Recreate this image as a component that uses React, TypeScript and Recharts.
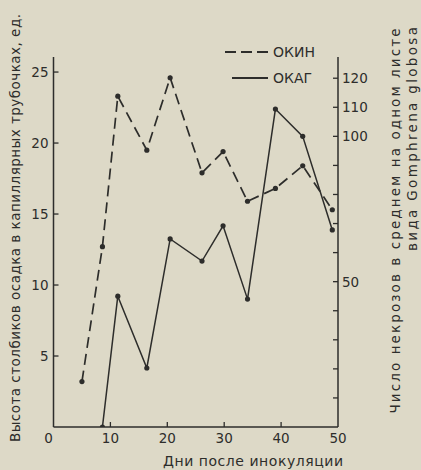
import { LineChart, Line, XAxis, YAxis, Legend, Label } from 'recharts'

// дни после инокуляции
const days = [5.0, 8.6, 11.3, 16.4, 20.5, 26.1, 29.8, 34.1, 39.0, 43.8, 49.0]
// высота столбиков осадка, ед. (левая ось)
const okin = [3.2, 12.7, 23.3, 19.5, 24.6, 17.9, 19.4, 15.9, 16.8, 18.4, 15.3]
// число некрозов на листе (правая ось)
const okag = [null, 0, 45.0, 20.3, 64.7, 57.1, 69.2, 44.0, 109.4, 100.0, 67.8]

const xTicks = [0, 10, 20, 30, 40, 50]
const leftTicks = [5, 10, 15, 20, 25]
const rightTicks = [10, 20, 30, 40, 50, 60, 70, 80, 90, 100, 110, 120]
const rightLabelled = [50, 100, 110, 120]

const data = days.map((d, i) => ({ day: d, okin: okin[i], okag: okag[i] }))

const INK = '#2d2d2b'
const BG = '#ddd9c7'
const FONT = '"DejaVu Sans", Verdana, sans-serif'

const legendOrder = ['okin', 'okag']
const legendStyle: Record<string, { dash?: string; len: number }> = {
  okin: { dash: '11 5', len: 43 },
  okag: { dash: undefined, len: 36 },
}

function XTick({ x, y, payload }: any) {
  const v = payload.value
  return (
    <g>
      {v > 0 && v < 50 && <line x1={x} x2={x} y1={y} y2={y - 5} stroke={INK} strokeWidth={1.3} />}
      <text x={v === 0 ? x - 5 : x} y={y + 11} textAnchor="middle" dominantBaseline="central"
        fontFamily={FONT} fontSize={13.5} fill={INK}>{v}</text>
    </g>
  )
}

function LeftTick({ x, y, payload }: any) {
  return (
    <g>
      <line x1={x} x2={x + 5} y1={y} y2={y} stroke={INK} strokeWidth={1.3} />
      <text x={x - 5} y={y} textAnchor="end" dominantBaseline="central"
        fontFamily={FONT} fontSize={13.5} fill={INK}>{payload.value}</text>
    </g>
  )
}

function RightTick({ x, y, payload }: any) {
  const v = payload.value
  return (
    <g>
      <line x1={x} x2={x - 5} y1={y} y2={y} stroke={INK} strokeWidth={1.3} />
      {rightLabelled.includes(v) && (
        <text x={x + 4} y={y} textAnchor="start" dominantBaseline="central"
          fontFamily={FONT} fontSize={13.5} fill={INK}>{v}</text>
      )}
    </g>
  )
}

function LegendBox({ payload }: any) {
  const items = [...(payload || [])].sort(
    (a: any, b: any) => legendOrder.indexOf(a.dataKey) - legendOrder.indexOf(b.dataKey))
  return (
    <div style={{ fontFamily: FONT, fontSize: 14, color: INK }}>
      {items.map((entry: any) => {
        const s = legendStyle[entry.dataKey]
        return (
          <div key={entry.dataKey} style={{ display: 'flex', alignItems: 'center', height: 26 }}>
            <svg width={46} height={10}>
              <line x1={46 - s.len} x2={46} y1={5} y2={5} stroke={INK} strokeWidth={1.8} strokeDasharray={s.dash} />
            </svg>
            <span style={{ marginLeft: 5 }}>{entry.value}</span>
          </div>
        )
      })}
    </div>
  )
}

function rotated(x: number, y: number, len: number, text: string) {
  return (
    <text x={x} y={y} transform={`rotate(-90 ${x} ${y})`} textAnchor="middle" dominantBaseline="central"
      fontFamily={FONT} fontSize={13.5} fill={INK} textLength={len} lengthAdjust="spacing">{text}</text>
  )
}

export default function App() {
  return (
    <div style={{ position: 'absolute', left: 0, top: 0, width: 421, height: 470, background: BG }}>
      <LineChart width={421} height={470} data={data} margin={{ top: 57, right: 0, bottom: 0, left: 0 }}>
        <XAxis dataKey="day" type="number" domain={[0, 50]} ticks={xTicks} height={43}
          axisLine={{ stroke: INK, strokeWidth: 1.5 }} tickLine={false} tickSize={0} tickMargin={0}
          tick={<XTick />} interval={0}>
          <Label content={() => (
            <text x={253} y={461} textAnchor="middle" dominantBaseline="central" fontFamily={FONT}
              fontSize={14} fill={INK} textLength={180} lengthAdjust="spacing">Дни после инокуляции</text>
          )} />
        </XAxis>
        <YAxis yAxisId="l" orientation="left" width={53.5} domain={[0, 26.06]} ticks={leftTicks}
          axisLine={{ stroke: INK, strokeWidth: 1.5 }} tickLine={false} tickSize={0} tickMargin={0}
          tick={<LeftTick />} interval={0} allowDataOverflow>
          <Label content={() => rotated(15, 228, 428, 'Высота столбиков осадка в капиллярных трубочках, ед.')} />
        </YAxis>
        <YAxis yAxisId="r" orientation="right" width={83} domain={[0, 127.3]} ticks={rightTicks}
          axisLine={{ stroke: INK, strokeWidth: 1.5 }} tickLine={false} tickSize={0} tickMargin={0}
          tick={<RightTick />} interval={0} allowDataOverflow>
          <Label content={() => (
            <g>
              {rotated(395, 221, 385, 'Число некрозов в среднем на одном листе')}
              {rotated(412, 139, 224, 'вида Gomphrena globosa')}
            </g>
          )} />
        </YAxis>
        <Legend layout="vertical" align="center" verticalAlign="middle" content={<LegendBox />}
          wrapperStyle={{ left: 222, top: 39, width: 110 }} />
        <Line yAxisId="l" dataKey="okin" name="ОКИН" stroke={INK} strokeWidth={1.7} strokeDasharray="11 6"
          dot={{ r: 2.6, fill: INK, strokeWidth: 0 }} isAnimationActive={false} />
        <Line yAxisId="r" dataKey="okag" name="ОКАГ" stroke={INK} strokeWidth={1.5}
          dot={{ r: 2.6, fill: INK, strokeWidth: 0 }} isAnimationActive={false} />
      </LineChart>
    </div>
  )
}
